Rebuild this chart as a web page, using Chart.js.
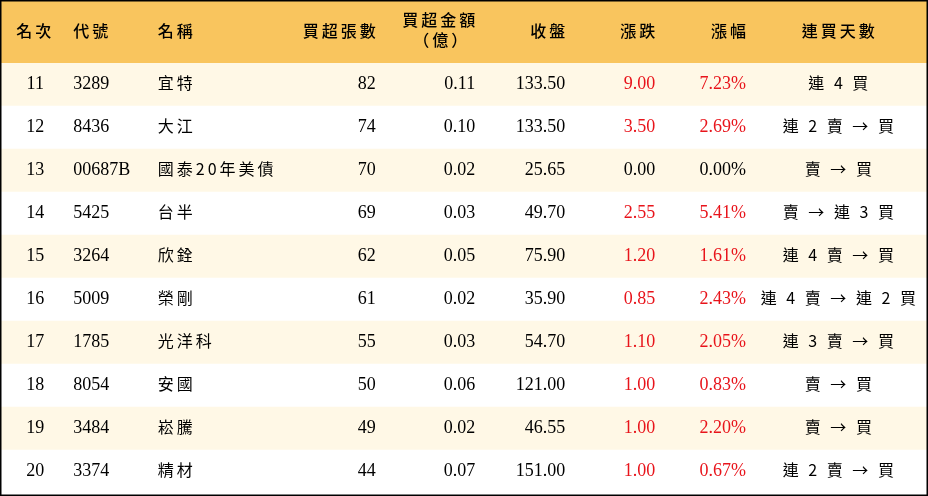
<!DOCTYPE html>
<html>
<head>
<meta charset="utf-8">
<script src="https://cdn.jsdelivr.net/npm/chart.js@4"></script>
<style>
  body { margin: 0; background: #fff; }
</style>
</head>
<body>
<canvas id="tbl" width="928" height="496"></canvas>
<script>
// table data
const ranks = [11, 12, 13, 14, 15, 16, 17, 18, 19, 20];
const codes = ["3289", "8436", "00687B", "5425", "3264", "5009", "1785", "8054", "3484", "3374"];
const names = ["宜特", "大江", "國泰20年美債", "台半", "欣銓", "榮剛", "光洋科", "安國", "崧騰", "精材"];
const netLots = [82, 74, 70, 69, 62, 61, 55, 50, 49, 44];
const netAmount = [0.11, 0.10, 0.02, 0.03, 0.05, 0.02, 0.03, 0.06, 0.02, 0.07];
const closes = [133.50, 133.50, 25.65, 49.70, 75.90, 35.90, 54.70, 121.00, 46.55, 151.00];
const changes = [9.00, 3.50, 0.00, 2.55, 1.20, 0.85, 1.10, 1.00, 1.00, 1.00];
const changePct = [7.23, 2.69, 0.00, 5.41, 1.61, 2.43, 2.05, 0.83, 2.20, 0.67];
const streaks = ["連 4 買", "連 2 賣 → 買", "賣 → 買", "賣 → 連 3 買", "連 4 賣 → 買",
                 "連 4 賣 → 連 2 買", "連 3 賣 → 買", "賣 → 買", "賣 → 買", "連 2 賣 → 買"];
const headers = ["名次", "代號", "名稱", "買超張數", "買超金額", "收盤", "漲跌", "漲幅", "連買天數"];

// column anchors (fraction of width) and alignment
const cols = [
  { x: 0.038, align: "center" },
  { x: 0.079, align: "left" },
  { x: 0.170, align: "left" },
  { x: 0.405, align: "right" },
  { x: 0.512, align: "right" },
  { x: 0.609, align: "right" },
  { x: 0.706, align: "right" },
  { x: 0.804, align: "right" },
  { x: 0.905, align: "center" }
];

const RED = "#e8141b";
const CJK = "'Noto Sans CJK TC', 'Noto Sans CJK SC', sans-serif";
const NUM = "'Liberation Serif', 'DejaVu Serif', serif";

function rowCells(i) {
  return [
    { t: String(ranks[i]), f: NUM },
    { t: codes[i], f: NUM },
    { t: names[i], f: CJK },
    { t: String(netLots[i]), f: NUM },
    { t: netAmount[i].toFixed(2), f: NUM },
    { t: closes[i].toFixed(2), f: NUM },
    { t: changes[i].toFixed(2), f: NUM, c: changes[i] > 0 ? RED : "#000" },
    { t: changePct[i].toFixed(2) + "%", f: NUM, c: changePct[i] > 0 ? RED : "#000" },
    { t: streaks[i], f: CJK }
  ];
}

const tablePlugin = {
  id: "tablePlugin",
  beforeDraw(chart) {
    const ctx = chart.ctx;
    ctx.save();
    ctx.fillStyle = "#f9c55e";
    ctx.fillRect(0, 0, chart.width, chart.chartArea.top);
    ctx.restore();
  },
  afterDraw(chart) {
    const ctx = chart.ctx;
    const xs = chart.scales.x;
    const ys = chart.scales.y;
    ctx.save();
    ctx.textBaseline = "middle";
    // header
    const hy = chart.chartArea.top / 2 - 1;
    ctx.fillStyle = "#000";
    ctx.letterSpacing = "3px";
    headers.forEach((h, k) => {
      ctx.textAlign = cols[k].align;
      ctx.font = "500 16px " + CJK;
      const x = xs.getPixelForValue(cols[k].x) + (cols[k].align === "right" ? 3 : 0);
      if (k === 4) {
        ctx.fillText(h, x, hy - 11);
        ctx.fillText("（億）", x - 8, hy + 9);
      } else {
        ctx.fillText(h, x, hy);
      }
    });
    // rows
    ranks.forEach((r, i) => {
      const y = ys.getPixelForValue(i);
      rowCells(i).forEach((cell, k) => {
        const cjk = cell.f === CJK;
        ctx.textAlign = cols[k].align;
        ctx.letterSpacing = cjk ? "3px" : "0px";
        ctx.font = (cjk ? "16px " : "18px ") + cell.f;
        ctx.fillStyle = cell.c || "#000";
        ctx.fillText(cell.t, xs.getPixelForValue(cols[k].x), cjk ? y - 2 : y);
      });
    });
    // outer border
    ctx.strokeStyle = "#000";
    ctx.lineWidth = 1.5;
    ctx.strokeRect(0.75, 0.75, chart.width - 1.5, chart.height - 1.5);
    ctx.restore();
  }
};

new Chart(document.getElementById("tbl"), {
  type: "bar",
  data: {
    labels: ranks.map(String),
    datasets: [{
      data: ranks.map(() => [0, 1]),
      backgroundColor: ranks.map((r, i) => i % 2 === 0 ? "#fff8e6" : "#ffffff"),
      borderWidth: 0,
      barPercentage: 1,
      categoryPercentage: 1
    }]
  },
  options: {
    indexAxis: "y",
    responsive: false,
    animation: false,
    layout: { padding: { top: 63, bottom: 3, left: 0, right: 0 } },
    scales: {
      x: { display: false, min: 0, max: 1 },
      y: { display: false }
    },
    plugins: { legend: { display: false }, tooltip: { enabled: false } }
  },
  plugins: [tablePlugin]
});
</script>
</body>
</html>
